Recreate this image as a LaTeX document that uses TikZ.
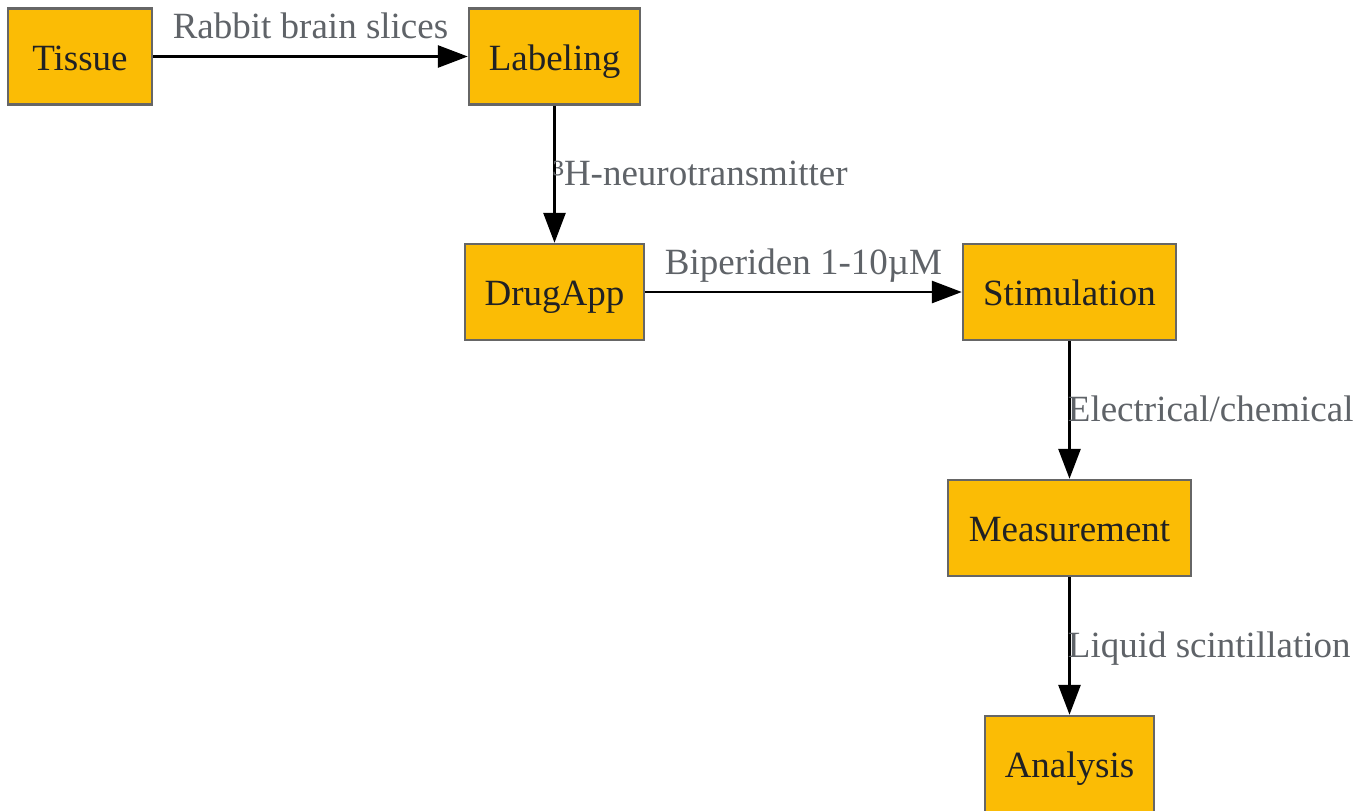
\documentclass[tikz,border=0pt]{standalone}
\usepackage{fontspec}
\setmainfont{Liberation Serif}
\usetikzlibrary{arrows.meta}
\definecolor{boxfill}{HTML}{FBBC05}
\definecolor{boxline}{HTML}{666666}
\definecolor{boxtext}{HTML}{202124}
\definecolor{labeltext}{HTML}{5F6368}
\tikzset{
  stepbox/.style={draw=boxline,line width=1.2pt,fill=boxfill,text=boxtext,
    minimum height=48pt,inner sep=0pt,text height=14pt,text depth=0.5pt,
    font=\fontsize{18.5}{22}\selectfont},
  flow/.style={-{Triangle[length=15pt,width=11pt]},line width=1.4pt,black},
  flowlabel/.style={text=labeltext,inner sep=0pt,text depth=0pt,
    font=\fontsize{18.5}{22}\selectfont},
  sidelabel/.style={flowlabel,anchor=base west,xshift=-1.5pt,yshift=-5.75pt}
}
\begin{document}
\begin{tikzpicture}[x=0.5pt,y=-0.5pt]
\useasboundingbox (0,0) rectangle (1365,810);
\node (tissue) at (80,56.5) [stepbox,minimum width=72pt] {Tissue};
\node (labeling) at (554.5,56.5) [stepbox,minimum width=85.5pt] {Labeling};
\node (drugapp) at (554.5,292) [stepbox,minimum width=89.5pt] {DrugApp};
\node (stimulation) at (1069.5,292) [stepbox,minimum width=106.5pt] {Stimulation};
\node (measurement) at (1069.5,528) [stepbox,minimum width=121.5pt] {Measurement};
\node (analysis) at (1069.5,764) [stepbox,minimum width=84.5pt] {Analysis};
\draw[flow] (tissue) -- node[flowlabel,above=8.25pt] {Rabbit brain slices} (labeling);
\draw[flow] (labeling) -- node[sidelabel] {³H-neurotransmitter} (drugapp);
\draw[flow] (drugapp) -- node[flowlabel,above=8.25pt] {Biperiden 1-10µM} (stimulation);
\draw[flow] (stimulation) -- node[sidelabel] {Electrical/chemical} (measurement);
\draw[flow] (measurement) -- node[sidelabel] {Liquid scintillation} (analysis);
\end{tikzpicture}
\end{document}
